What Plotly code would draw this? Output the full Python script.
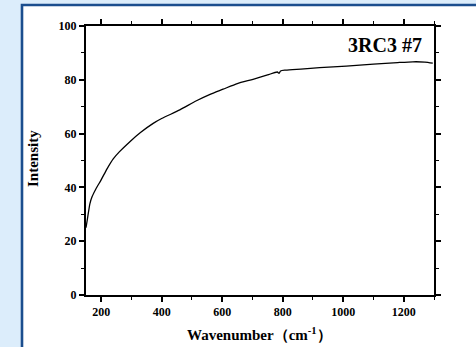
import plotly.graph_objects as go

# Spectrum readings: wavenumber (cm^-1) and intensity
wavenumber = [150, 155, 163, 170, 183, 200, 220, 240, 260, 295, 330, 372, 400, 460,
              515, 560, 603, 650, 702, 750, 782, 788, 793, 810, 860, 922, 1010,
              1100, 1180, 1230, 1270, 1296]
intensity = [25.0, 28.5, 34.0, 36.5, 39.5, 42.8, 47.0, 50.6, 53.2, 57.0, 60.4, 63.8,
             65.6, 68.8, 72.2, 74.6, 76.5, 78.6, 80.2, 81.8, 82.9, 82.4, 83.3, 83.6,
             84.0, 84.5, 85.1, 85.8, 86.4, 86.7, 86.6, 86.2]

x_ticks = [200, 400, 600, 800, 1000, 1200]
y_ticks = [0, 20, 40, 60, 80, 100]

W, H = 476, 347
L, R, T, B = 86, 42, 26, 52
pw, ph = W - L - R, H - T - B

def px(x):
    return (x - L) / pw

def py(y):
    return (H - B - y) / ph

serif = "Liberation Serif"

fig = go.Figure()
fig.add_trace(go.Scatter(x=wavenumber, y=intensity, mode="lines",
                         line=dict(color="black", width=1.3, shape="spline",
                                   smoothing=0.6),
                         showlegend=False))

axis_common = dict(
    showline=True, linecolor="black", linewidth=2, mirror="allticks",
    ticks="outside", ticklen=5, tickwidth=1.6, tickcolor="black",
    showgrid=False, zeroline=False,
    tickfont=dict(family=serif, size=12, color="black", weight="bold"),
)

fig.update_xaxes(range=[150, 1300], tickvals=x_ticks,
                 minor=dict(dtick=100, tick0=100, ticks="outside", ticklen=3,
                            tickwidth=1.4, tickcolor="black"),
                 **axis_common)
fig.update_yaxes(range=[0, 100], tickvals=y_ticks,
                 minor=dict(dtick=10, tick0=0, ticks="outside", ticklen=3,
                            tickwidth=1.4, tickcolor="black"),
                 **axis_common)

# white panel with a dark blue frame on the light blue page
fig.add_shape(type="rect", xref="paper", yref="paper",
              x0=px(22), x1=px(490), y0=py(360), y1=py(5),
              fillcolor="white", line=dict(color="#1b4e8e", width=2.6),
              layer="below")

fig.add_annotation(x=1268, y=93, xref="x", yref="y", text="<b>3RC3 #7</b>",
                   showarrow=False, xanchor="right", yanchor="middle",
                   font=dict(family=serif, size=20, color="black"))
fig.add_annotation(x=px(259), y=py(334), xref="paper", yref="paper",
                   text="<b>Wavenumber（cm<sup>-1</sup>）</b>", showarrow=False,
                   xanchor="center", yanchor="middle",
                   font=dict(family=serif, size=15, color="black"))
fig.add_annotation(x=px(33), y=py(159), xref="paper", yref="paper",
                   text="<b>Intensity</b>", showarrow=False, textangle=-90,
                   xanchor="center", yanchor="middle",
                   font=dict(family=serif, size=15, color="black"))

fig.update_layout(width=W, height=H, margin=dict(l=L, r=R, t=T, b=B),
                  paper_bgcolor="#dcedfb", plot_bgcolor="white")

fig.write_html("out.html")
